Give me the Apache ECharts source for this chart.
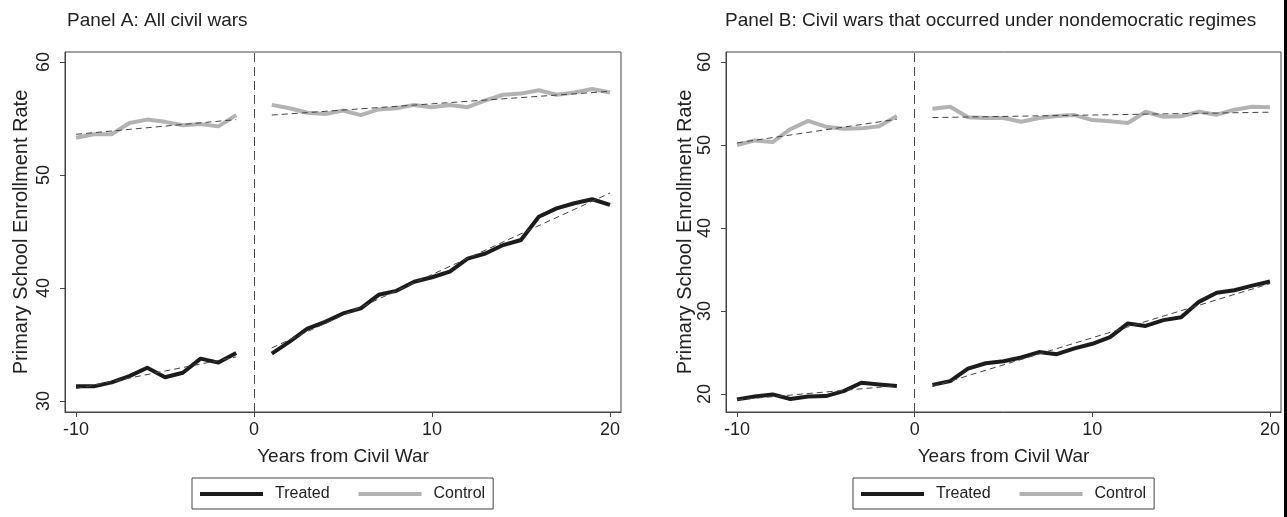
<!DOCTYPE html>
<html>
<head>
<meta charset="utf-8">
<script src="https://cdn.jsdelivr.net/npm/echarts@6/dist/echarts.min.js"></script>
<style>
html,body{margin:0;padding:0;background:#fff;}
#c{width:1287px;height:517px;}
</style>
</head>
<body>
<div id="c"></div>
<script>
// ---- data ----
const preYears  = [-10,-9,-8,-7,-6,-5,-4,-3,-2,-1];
const postYears = [1,2,3,4,5,6,7,8,9,10,11,12,13,14,15,16,17,18,19,20];
const xTicks = [-10,0,10,20];
const yTicksA = [30,40,50,60];
const yTicksB = [20,30,40,50,60];

// Panel A: All civil wars
const aTreatedPre  = [31.3,31.3,31.65,32.2,32.95,32.1,32.5,33.75,33.4,34.25];
const aTreatedPost = [34.2,35.25,36.4,37.0,37.75,38.2,39.4,39.75,40.55,40.95,41.45,42.6,43.05,43.8,44.25,46.3,47.05,47.5,47.85,47.35];
const aControlPre  = [53.3,53.6,53.6,54.6,54.9,54.7,54.4,54.5,54.3,55.3];
const aControlPost = [56.2,55.9,55.5,55.4,55.7,55.3,55.8,55.9,56.2,56.0,56.2,56.0,56.6,57.1,57.2,57.5,57.1,57.3,57.6,57.3];
const fitPreX  = [-10,-1];
const fitPostX = [1,20];
const aTreatedFitPre  = [31.1,33.9];
const aTreatedFitPost = [34.7,48.4];
const aControlFitPre  = [53.6,54.9];
const aControlFitPost = [55.3,57.4];

// Panel B: nondemocratic regimes
const bTreatedPre  = [19.35,19.7,19.95,19.4,19.7,19.75,20.35,21.35,21.15,20.95];
const bTreatedPost = [21.1,21.55,23.05,23.7,23.95,24.4,25.05,24.8,25.5,26.05,26.85,28.5,28.2,28.9,29.25,31.1,32.2,32.5,33.05,33.55];
const bControlPre  = [50.0,50.55,50.35,51.9,52.9,52.2,51.95,52.0,52.25,53.5];
const bControlPost = [54.35,54.6,53.35,53.25,53.25,52.8,53.25,53.5,53.6,53.0,52.85,52.65,54.0,53.4,53.45,54.0,53.65,54.25,54.6,54.55];
const bTreatedFitPre  = [19.3,21.0];
const bTreatedFitPost = [20.9,33.3];
const bControlFitPre  = [50.25,53.1];
const bControlFitPost = [53.3,53.95];

// ---- styling ----
const FONT = '"Liberation Sans", Arial, Helvetica, sans-serif';
const TXT = '#222';
const AX = '#444';
const BLACK = '#1c1c1c';
const GRAY = '#b3b3b3';

function zip(xs, ys){ return xs.map((x,i)=>[x, ys[i]]); }

function mainSeries(name, color, xs, ys, gi, z){
  return {type:'line', name, xAxisIndex:gi, yAxisIndex:gi, data:zip(xs,ys),
    color, symbol:'none', showSymbol:false, silent:true, z,
    lineStyle:{color, width:4, join:'round'}};
}
function fitSeries(xs, ys, gi){
  return {type:'line', name:'fit', xAxisIndex:gi, yAxisIndex:gi, data:zip(xs,ys),
    symbol:'none', showSymbol:false, silent:true, z:5,
    lineStyle:{color:'#444', width:1, type:[6,4]}};
}
function vline(gi){
  return {type:'line', name:'vline', xAxisIndex:gi, yAxisIndex:gi, data:[], silent:true,
    markLine:{silent:true, symbol:'none', label:{show:false},
      lineStyle:{color:'#4a4a4a', width:1, type:[9,5]}, data:[{xAxis:0}], animation:false}};
}
function xAxisCfg(gi){
  return {type:'value', gridIndex:gi, min:-10.62, max:20.62,
    name:'Years from Civil War', nameLocation:'middle', nameGap:35,
    nameTextStyle:{fontFamily:FONT, fontSize:19, color:TXT},
    axisLine:{show:true, onZero:false, lineStyle:{color:AX, width:1}},
    axisTick:{show:true, length:5, lineStyle:{color:AX}, customValues:xTicks},
    axisLabel:{fontFamily:FONT, fontSize:18, color:TXT, margin:9, customValues:xTicks},
    splitLine:{show:false}};
}
function yAxisCfg(gi, min, max, ticks, gap){
  return {type:'value', gridIndex:gi, min, max,
    name:'Primary School Enrollment Rate', nameLocation:'middle', nameGap:gap,
    nameTextStyle:{fontFamily:FONT, fontSize:20, color:TXT},
    axisLine:{show:true, onZero:false, lineStyle:{color:AX, width:1}},
    axisTick:{show:true, length:5, lineStyle:{color:AX}, customValues:ticks},
    axisLabel:{fontFamily:FONT, fontSize:18, color:TXT, margin:12, rotate:90, customValues:ticks},
    splitLine:{show:false}};
}
function legendCfg(left){
  return {show:true, left, top:478, orient:'horizontal',
    data:['Treated','Control'], icon:'rect', itemWidth:63, itemHeight:4, itemGap:29,
    padding:[8,8,7,8], borderColor:'#444', borderWidth:1, backgroundColor:'#fff',
    selectedMode:false,
    textStyle:{fontFamily:FONT, fontSize:16, color:TXT, padding:[0,0,0,7]}};
}

const chart = echarts.init(document.getElementById('c'), null, {renderer:'canvas'});
chart.setOption({
  animation:false,
  backgroundColor:'#fff',
  title:[
    {text:'Panel A: All civil wars', left:67, top:11, padding:0,
      textStyle:{fontFamily:FONT, fontSize:19, fontWeight:'normal', color:TXT}},
    {text:'Panel B: Civil wars that occurred under nondemocratic regimes', left:725, top:11, padding:0,
      textStyle:{fontFamily:FONT, fontSize:19, fontWeight:'normal', color:TXT}}
  ],
  grid:[
    {left:65, top:52, width:556, height:360, show:true, borderColor:AX, borderWidth:1, backgroundColor:'transparent'},
    {left:726, top:52, width:555, height:360, show:true, borderColor:AX, borderWidth:1, backgroundColor:'transparent'}
  ],
  xAxis:[xAxisCfg(0), xAxisCfg(1)],
  yAxis:[yAxisCfg(0, 29.03, 60.88, yTicksA, 34), yAxisCfg(1, 17.83, 61.2, yTicksB, 26)],
  legend:[legendCfg(192), legendCfg(853)],
  series:[
    vline(0), vline(1),
    mainSeries('Control', GRAY, preYears, aControlPre, 0, 2),
    mainSeries('Control', GRAY, postYears, aControlPost, 0, 2),
    mainSeries('Treated', BLACK, preYears, aTreatedPre, 0, 3),
    mainSeries('Treated', BLACK, postYears, aTreatedPost, 0, 3),
    fitSeries(fitPreX, aControlFitPre, 0), fitSeries(fitPostX, aControlFitPost, 0),
    fitSeries(fitPreX, aTreatedFitPre, 0), fitSeries(fitPostX, aTreatedFitPost, 0),
    mainSeries('Control', GRAY, preYears, bControlPre, 1, 2),
    mainSeries('Control', GRAY, postYears, bControlPost, 1, 2),
    mainSeries('Treated', BLACK, preYears, bTreatedPre, 1, 3),
    mainSeries('Treated', BLACK, postYears, bTreatedPost, 1, 3),
    fitSeries(fitPreX, bControlFitPre, 1), fitSeries(fitPostX, bControlFitPost, 1),
    fitSeries(fitPreX, bTreatedFitPre, 1), fitSeries(fitPostX, bTreatedFitPost, 1)
  ],
  graphic:[
    {type:'rect', right:0, top:0, shape:{width:3, height:517}, style:{fill:'#000'}, silent:true}
  ]
});
</script>
</body>
</html>
